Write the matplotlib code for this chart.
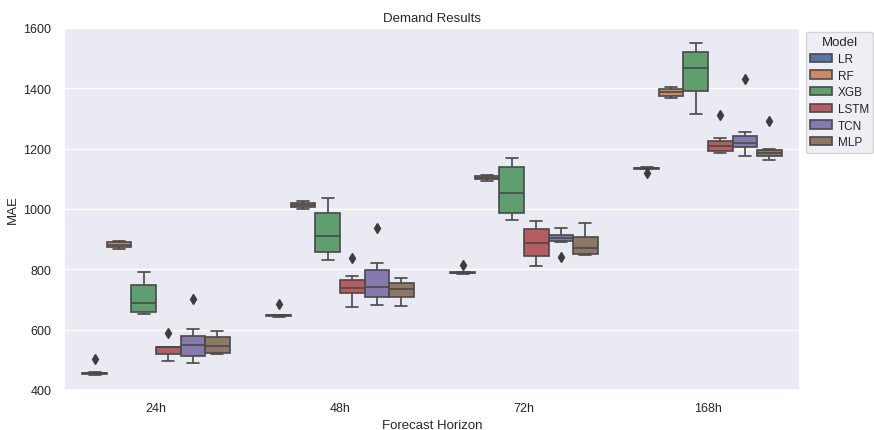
import numpy as np
import pandas as pd
import matplotlib
matplotlib.use("Agg")
import matplotlib.pyplot as plt
import seaborn as sns

# ===== values (MAE per model, per horizon) =====
horizons = ["24h", "48h", "72h", "168h"]
models = ["LR", "RF", "XGB", "LSTM", "TCN", "MLP"]

lr_mae = [
    [450, 452, 453, 454, 455, 456, 458, 459, 503],
    [643, 644, 645, 646, 647, 648, 649, 650, 685],
    [785, 786, 787, 788, 789, 790, 791, 792, 814],
    [1120, 1131, 1133, 1134, 1135, 1136, 1137, 1138, 1139],
]
rf_mae = [
    [867, 870, 873, 878, 882, 886, 889, 891, 894],
    [1001, 1003, 1006, 1010, 1014, 1017, 1020, 1022, 1025],
    [1094, 1096, 1098, 1101, 1104, 1106, 1109, 1111, 1113],
    [1368, 1371, 1376, 1382, 1388, 1393, 1398, 1401, 1405],
]
xgb_mae = [
    [652, 655, 658, 672, 689, 720, 748, 770, 792],
    [832, 845, 856, 885, 911, 950, 987, 1010, 1035],
    [963, 975, 988, 1020, 1053, 1100, 1138, 1155, 1169],
    [1316, 1350, 1392, 1430, 1467, 1495, 1519, 1535, 1550],
]
lstm_mae = [
    [497, 508, 519, 530, 541, 541, 542, 543, 590],
    [676, 700, 721, 730, 739, 752, 765, 779, 837],
    [812, 830, 843, 865, 887, 910, 935, 948, 960],
    [1186, 1193, 1193, 1201, 1209, 1217, 1224, 1234, 1313],
]
tcn_mae = [
    [490, 502, 514, 530, 549, 565, 580, 603, 701],
    [683, 695, 708, 725, 740, 770, 798, 821, 938],
    [841, 891, 893, 898, 904, 910, 915, 925, 938],
    [1175, 1190, 1207, 1212, 1218, 1230, 1243, 1254, 1431],
]
mlp_mae = [
    [520, 520, 521, 535, 547, 560, 575, 585, 595],
    [680, 695, 707, 720, 735, 745, 755, 763, 771],
    [849, 850, 851, 860, 871, 890, 906, 930, 954],
    [1163, 1170, 1177, 1181, 1186, 1192, 1197, 1198, 1292],
]

# --- long-form table for seaborn ---
rows = []
for name, per_h in zip(models, [lr_mae, rf_mae, xgb_mae, lstm_mae, tcn_mae, mlp_mae]):
    for h, vals in zip(horizons, per_h):
        for v in vals:
            rows.append({"Forecast Horizon": h, "MAE": v, "Model": name})
df = pd.DataFrame(rows)

sns.set_theme(style="darkgrid")
plt.rcParams["font.family"] = ["Liberation Sans", "DejaVu Sans"]

fig = plt.figure(figsize=(8.74, 4.31), dpi=100)
ax = fig.add_axes([64 / 874, 1 - 391 / 431, 736 / 874, 362 / 431])

sns.boxplot(
    data=df, x="Forecast Horizon", y="MAE", hue="Model",
    order=horizons, hue_order=models, ax=ax, linewidth=1.2,
    flierprops={"marker": "d", "markersize": 5,
                "markerfacecolor": "#3d3d3d", "markeredgecolor": "#3d3d3d"},
)

ax.set_ylim(400, 1600)
ax.set_yticks([400, 600, 800, 1000, 1200, 1400, 1600])
ax.set_title("Demand Results", fontsize=9.5, pad=5)
ax.set_xlabel("Forecast Horizon", fontsize=9.5, labelpad=3)
ax.set_ylabel("MAE", fontsize=9.5, labelpad=3)
ax.tick_params(axis="both", labelsize=9, pad=3)

# legend sits just right of the axes, as in the reference
sns.move_legend(ax, "upper left", bbox_to_anchor=(1.008, 0.989), borderaxespad=0,
                title="Model", fontsize=8.5, title_fontsize=9.5, frameon=True,
                labelspacing=0.4, handlelength=1.9, handletextpad=0.45,
                borderpad=0.35)

fig.savefig("out.png", dpi=100)
plt.close(fig)
